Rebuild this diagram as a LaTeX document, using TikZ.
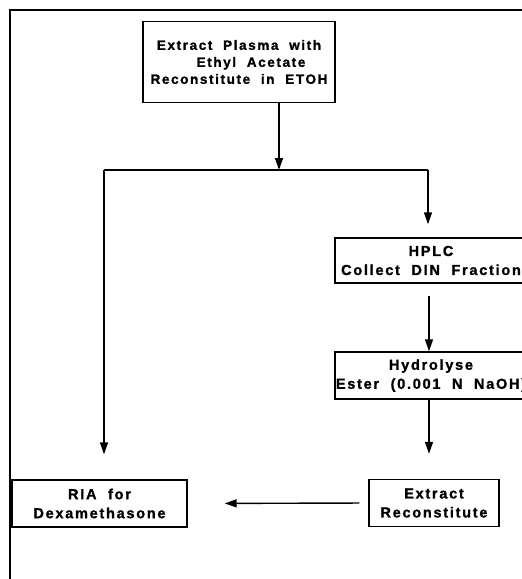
\documentclass[tikz,border=0pt]{standalone}
\usepackage{fontspec}
\setmainfont{Liberation Sans}[LetterSpace=12, BoldFeatures={FakeBold=1.2}]
\usepackage{tikz}
\usetikzlibrary{calc,arrows.meta}

\tikzset{
  stepbox/.style={draw, line width=1.4pt, align=center, inner sep=0pt,
    font=\bfseries\fontsize{14.5}{19}\selectfont},
  flow/.style={line width=1.4pt}
}

\begin{document}
\begin{tikzpicture}[x=1pt, y=-1pt, >={Triangle[length=12pt,width=8pt]}]
  \useasboundingbox (0,0) rectangle (522,579);
  % ------- frame -------
  \draw[line width=1.4pt] (522,10) -- (10,10) -- (10,579);
  % ------- boxes -------
  \node[stepbox, minimum width=192, minimum height=81,
        font=\bfseries\fontsize{13.5}{17}\selectfont] (plasma) at (239,62)
    {Extract\ \ Plasma\ \ with\\ \hspace*{24pt}Ethyl\ \ Acetate\\ Reconstitute\ \ in\ \ ETOH};
  \node[stepbox, minimum width=192, minimum height=45] (hplc) at (431,260.5)
    {HPLC\\ Collect\ \ DIN\ \ Fraction};
  \node[stepbox, minimum width=192, minimum height=47] (hydro) at (431,375.5)
    {Hydrolyse\\ Ester\ \ (0.001\ \ N\ \ NaOH)};
  \node[stepbox, minimum width=130, minimum height=47] (extr) at (434,503)
    {Extract\\ Reconstitute};
  \node[stepbox, minimum width=175, minimum height=47] (ria) at (99.5,503.5)
    {RIA\ \ for\\ Dexamethasone};
  % ------- connectors -------
  \coordinate (split) at (279,170);
  \coordinate (splitL) at (104,170);
  \coordinate (splitR) at (428,170);
  \draw[flow, ->] (plasma.south -| split) -- (split);
  \draw[flow] (splitL) -- (splitR);
  \draw[flow, ->, shorten >=25pt] (splitL) -- (splitL |- ria.north);
  \draw[flow, ->, shorten >=13pt] (splitR) -- (splitR |- hplc.north);
  \draw[flow, ->, shorten <=12pt] (hplc.south -| 429,0) -- (hydro.north -| 429,0);
  \draw[flow, ->, shorten >=25pt] (hydro.south -| 429,0) -- (extr.north -| 429,0);
  \draw[flow, ->, shorten <=9pt, shorten >=37pt] (extr.west) -- (ria.east);
\end{tikzpicture}
\end{document}
